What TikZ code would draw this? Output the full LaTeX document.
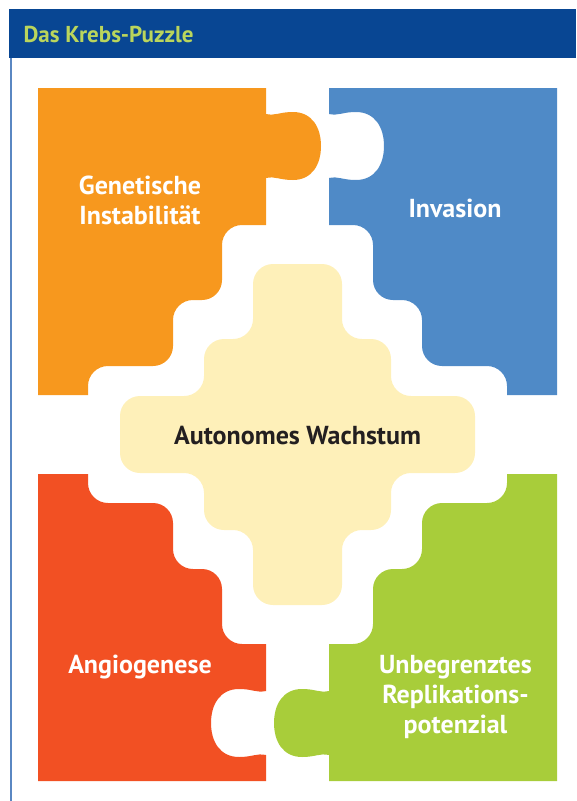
\documentclass[tikz,border=0pt]{standalone}
\usepackage{fontspec}
\setmainfont{PT Sans}
\definecolor{HeadBlue}{RGB}{8,70,147}
\definecolor{HeadGreen}{RGB}{186,213,92}
\definecolor{FrameBlue}{RGB}{90,135,194}
\definecolor{PuzOrange}{RGB}{247,152,30}
\definecolor{PuzBlue}{RGB}{79,138,199}
\definecolor{PuzRed}{RGB}{242,80,35}
\definecolor{PuzGreen}{RGB}{168,205,58}
\definecolor{PuzCream}{RGB}{254,240,185}
\definecolor{TextDark}{RGB}{35,31,32}
\begin{document}
\begin{tikzpicture}[
        x=1pt, y=-1pt,
        headtext/.style={font=\fontsize{23}{28}\selectfont\bfseries, text=HeadGreen, anchor=west},
        piecelabel/.style={font=\fontsize{26}{30}\selectfont\bfseries, text=white, align=center},
        corelabel/.style={font=\fontsize{26}{30}\selectfont\bfseries, text=TextDark}
    ]
        \useasboundingbox (0,0) rectangle (576,801);

        % Header
        \fill[HeadBlue] (9,9) rectangle (576,58);
        \node[headtext] (title) at (20,34) {Das Krebs-Puzzle};
        \draw[FrameBlue, line width=2pt] (11,58) -- (11,801);

        % Puzzle pieces (one quarter, mirrored)
        \begin{scope}[shift={(297.5,434.5)}]
            \foreach \sx/\sy/\k/\col in {1/1/1/PuzOrange, -1/1/-1/PuzBlue, 1/-1/-1/PuzRed, -1/-1/1/PuzGreen}
                \fill[fill=\col, xscale=\sx, yscale=\sy]
                    (-259.5,-346.5) -- (-31.5,-346.5) -- (-31.5,-320.5)
                    .. controls ({-31.5+\k*10},-318.5) and ({-31.5+\k*13},-322.5) .. ({-31.5+\k*27},-322.5)
                    .. controls ({-31.5+\k*46},-322.5) and ({-31.5+\k*55},-307) .. ({-31.5+\k*55},-288.5)
                    .. controls ({-31.5+\k*55},-270) and ({-31.5+\k*46},-254.5) .. ({-31.5+\k*27},-254.5)
                    .. controls ({-31.5+\k*13},-254.5) and ({-31.5+\k*10},-258.5) .. (-31.5,-256.5)
                    -- (-31.5,-209.5) [rounded corners=20pt] -- (-75.5,-209.5) -- (-75.5,-134.5)
                    -- (-124.5,-134.5) -- (-124.5,-68.5) -- (-209.5,-68.5) [sharp corners]
                    -- (-209.5,-39.5) -- (-259.5,-39.5) -- cycle;

            % Centre piece
            \fill[PuzCream, rounded corners=20pt] (0,-170.5) -- (44.5,-170.5) -- (44.5,-95.5) -- (93.5,-95.5)
                -- (93.5,-38.5) -- (177.5,-38.5) -- (177.5,38.5) -- (93.5,38.5) -- (93.5,95.5)
                -- (44.5,95.5) -- (44.5,170.5) -- (-44.5,170.5) -- (-44.5,95.5) -- (-93.5,95.5)
                -- (-93.5,38.5) -- (-177.5,38.5) -- (-177.5,-38.5) -- (-93.5,-38.5) -- (-93.5,-95.5)
                -- (-44.5,-95.5) -- (-44.5,-170.5) -- cycle;
        \end{scope}

        % Labels
        \node[piecelabel] (genetic) at (140,200) {Genetische\\Instabilität};
        \node[piecelabel] (invasion) at (455,208) {Invasion};
        \node[piecelabel] (angio) at (140,667) {Angiogenese};
        \node[piecelabel] (replic) at (455.5,697) {Unbegrenztes\\Replikations-\\potenzial};
        \node[corelabel] (growth) at (297.5,436) {Autonomes Wachstum};
    \end{tikzpicture}
\end{document}
